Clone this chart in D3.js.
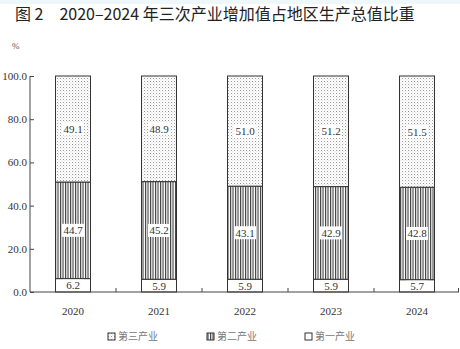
<!DOCTYPE html>
<html><head><meta charset="utf-8">
<script src="https://cdn.jsdelivr.net/npm/d3@7/dist/d3.min.js"></script>
<style>
html,body{margin:0;padding:0;background:#fff;}
svg{display:block;}
</style></head>
<body>
<script>
// Share of regional GDP by sector, 2020–2024 (%)
const years = ["2020", "2021", "2022", "2023", "2024"];
const primary = [6.2, 5.9, 5.9, 5.9, 5.7];
const secondary = [44.7, 45.2, 43.1, 42.9, 42.8];
const tertiary = [49.1, 48.9, 51.0, 51.2, 51.5];
const yTicks = [0, 20, 40, 60, 80, 100];
const legendNames = ["第三产业", "第二产业", "第一产业"];
const title = "图 2　2020–2024 年三次产业增加值占地区生产总值比重";

const W = 460, H = 349;
const svg = d3.select("body").append("svg").attr("width", W).attr("height", H);

const defs = svg.append("defs");
// dotted fill
const pd = defs.append("pattern").attr("id", "dots").attr("patternUnits", "userSpaceOnUse")
  .attr("width", 3).attr("height", 3);
pd.append("rect").attr("width", 3).attr("height", 3).attr("fill", "#fff");
pd.append("rect").attr("x", 0).attr("y", 0).attr("width", 1).attr("height", 1).attr("fill", "#9a9a9a");
pd.append("rect").attr("x", 1.5).attr("y", 1.5).attr("width", 0.8).attr("height", 0.8).attr("fill", "#b5b5b5");
// vertical stripes
const ps = defs.append("pattern").attr("id", "stripes").attr("patternUnits", "userSpaceOnUse")
  .attr("width", 2.5).attr("height", 4);
ps.append("rect").attr("width", 2.5).attr("height", 4).attr("fill", "#fff");
ps.append("rect").attr("x", 0).attr("width", 1.1).attr("height", 4).attr("fill", "#3a3a3a");

svg.append("rect").attr("x", 0).attr("y", 0).attr("width", W).attr("height", 4).attr("fill", "#eef8fb");

svg.append("text").attr("x", 15).attr("y", 20)
  .attr("font-family", "'Noto Sans CJK SC', sans-serif").attr("font-size", 16)
  .attr("font-weight", 400).attr("fill", "#222").text(title);

const plotL = 30, plotR = 460, plotT = 76, plotB = 292;
const x = d3.scaleBand().domain(years).range([plotL, plotR]).paddingInner(0).paddingOuter(0);
const y = d3.scaleLinear().domain([0, 100]).range([plotB, plotT]);
const barW = 35;

const serif = "'Liberation Serif', 'Times New Roman', serif";

svg.append("text").attr("x", 12).attr("y", 49).attr("font-family", serif)
  .attr("font-size", 9).attr("fill", "#555").text("%");

// y axis
const gy = svg.append("g").attr("transform", `translate(${plotL},0)`)
  .call(d3.axisRight(y).tickValues(yTicks).tickSize(4).tickFormat(""));
gy.select(".domain").attr("d", `M0,${plotT}V${plotB}`).attr("stroke", "#444");
gy.selectAll(".tick line").attr("stroke", "#444");
svg.selectAll(".ylab").data(yTicks).join("text")
  .attr("x", plotL - 3).attr("y", d => y(d) + 4)
  .attr("text-anchor", "end").attr("font-family", serif).attr("font-size", 11)
  .attr("fill", "#333").text(d => d.toFixed(1));

// stacked bars
const rows = years.map((yr, i) => ({year: yr, p: primary[i], s: secondary[i], t: tertiary[i]}));
const stack = d3.stack().keys(["p", "s", "t"])(rows);
const fills = {p: "#fff", s: "url(#stripes)", t: "url(#dots)"};

stack.forEach(layer => {
  const g = svg.append("g");
  g.selectAll("rect").data(layer).join("rect")
    .attr("x", d => x(d.data.year) + (x.bandwidth() - barW) / 2)
    .attr("y", d => y(d[1]))
    .attr("width", barW)
    .attr("height", d => y(d[0]) - y(d[1]))
    .attr("fill", fills[layer.key])
    .attr("stroke", "#333").attr("stroke-width", 1);
});

// segment value labels
stack.forEach(layer => {
  const g = svg.append("g");
  layer.forEach(d => {
    const cx = x(d.data.year) + x.bandwidth() / 2;
    const cy = (y(d[0]) + y(d[1])) / 2;
    const v = d[1] - d[0];
    const h = layer.key === "p" ? Math.min(12, y(d[0]) - y(d[1]) - 2) : 13;
    g.append("rect").attr("x", cx - 11).attr("y", cy - h / 2)
      .attr("width", 22).attr("height", h).attr("fill", "#fff");
    g.append("text").attr("x", cx).attr("y", cy + 4)
      .attr("text-anchor", "middle").attr("font-family", serif).attr("font-size", 11)
      .attr("fill", "#333").text(v.toFixed(1));
  });
});

// x axis
const gx = svg.append("g").attr("transform", `translate(0,${plotB})`);
gx.append("line").attr("x1", plotL).attr("x2", plotR - 1).attr("stroke", "#444");
const bounds = years.map(d => x(d) + x.bandwidth()).map(v => Math.min(v, plotR - 1.5));
gx.selectAll(".bt").data(bounds).join("line")
  .attr("x1", d => d).attr("x2", d => d).attr("y1", 0).attr("y2", -4).attr("stroke", "#444");
svg.selectAll(".xlab").data(years).join("text")
  .attr("x", d => x(d) + x.bandwidth() / 2).attr("y", 315)
  .attr("text-anchor", "middle").attr("font-family", serif).attr("font-size", 11)
  .attr("fill", "#333").text(d => d);

// legend
const legFills = ["url(#dots)", "url(#stripes)", "#fff"];
const legX = [108, 207, 305];
legendNames.forEach((n, i) => {
  svg.append("rect").attr("x", legX[i]).attr("y", 333).attr("width", 7).attr("height", 7)
    .attr("fill", legFills[i]).attr("stroke", "#333").attr("stroke-width", 1);
  svg.append("text").attr("x", legX[i] + 10).attr("y", 340)
    .attr("font-family", "'Noto Sans CJK SC', sans-serif").attr("font-size", 10)
    .attr("fill", "#777").text(n);
});
</script>
</body></html>
